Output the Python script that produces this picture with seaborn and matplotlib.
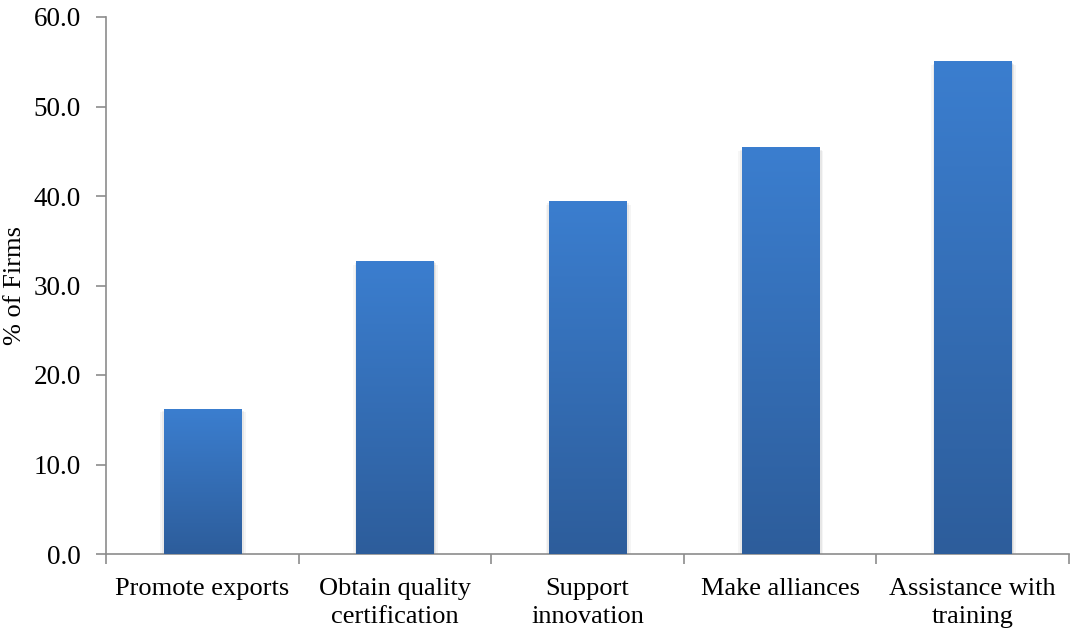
import numpy as np
import pandas as pd
import matplotlib
matplotlib.use("Agg")
import matplotlib.pyplot as plt
import matplotlib.patheffects as pe
from matplotlib.colors import LinearSegmentedColormap
import seaborn as sns

categories = ["Promote exports", "Obtain quality\ncertification", "Support\ninnovation",
              "Make alliances", "Assistance with\ntraining"]
pct_firms = [16.2, 32.7, 39.4, 45.4, 55.0]
y_ticks = [0, 10, 20, 30, 40, 50, 60]

sns.set_theme(style="white")
plt.rcParams["font.family"] = ["Liberation Serif", "DejaVu Serif"]

df = pd.DataFrame({"category": categories, "pct": pct_firms})

fig = plt.figure(figsize=(10.7, 6.31), dpi=100)
ax = fig.add_axes([106 / 1070, 1 - 554 / 631, (1069 - 106) / 1070, (554 - 17) / 631])

sns.barplot(data=df, x="category", y="pct", width=0.4, color="#3A7DCE", ax=ax)

# vertical gradient fill on each bar, with a soft drop shadow
grad = LinearSegmentedColormap.from_list("bar_grad", ["#2D5D9B", "#3B7ECF"])
shadow = [
    pe.SimplePatchShadow(offset=(3.5, -2.5), shadow_rgbFace="#606060", alpha=0.06),
    pe.SimplePatchShadow(offset=(-2.5, -2.5), shadow_rgbFace="#606060", alpha=0.05),
    pe.SimplePatchShadow(offset=(2.2, -1.5), shadow_rgbFace="#606060", alpha=0.09),
    pe.SimplePatchShadow(offset=(-1.2, -1.5), shadow_rgbFace="#606060", alpha=0.08),
    pe.SimplePatchShadow(offset=(1.0, -0.8), shadow_rgbFace="#606060", alpha=0.12),
]
for patch in ax.patches:
    x0, y0 = patch.get_x(), patch.get_y()
    w, h = patch.get_width(), patch.get_height()
    patch.set_facecolor((1, 1, 1, 0))
    patch.set_edgecolor("none")
    patch.set_path_effects(shadow)
    ax.imshow(np.linspace(0, 1, 256).reshape(-1, 1), cmap=grad, origin="lower",
              extent=[x0, x0 + w, y0, y0 + h], aspect="auto", zorder=3)

ax.set_xlim(-0.5, len(categories) - 0.5)
ax.set_ylim(0, 60)
ax.set_yticks(y_ticks)
ax.set_yticklabels([f"{v:.1f}" for v in y_ticks])

# category separators as major ticks, labels on minor ticks
ax.set_xticks(np.arange(-0.5, len(categories), 1.0))
ax.set_xticklabels([])
ax.set_xticks(np.arange(len(categories)), minor=True)
ax.set_xticklabels(categories, minor=True, linespacing=1.4)

axis_gray = "#8C8C8C"
for side in ["top", "right"]:
    ax.spines[side].set_visible(False)
for side in ["left", "bottom"]:
    ax.spines[side].set_color(axis_gray)
    ax.spines[side].set_linewidth(1.2)

ax.tick_params(axis="x", which="major", direction="out", length=7, width=1.2, color=axis_gray, bottom=True)
ax.tick_params(axis="x", which="minor", length=0, pad=17, labelsize=19, colors="black")
ax.tick_params(axis="y", direction="out", length=7, width=1.2, color=axis_gray, left=True,
               labelsize=19.5, labelcolor="black", pad=11)

ax.set_xlabel("")
ax.set_ylabel("% of Firms", fontsize=19, color="black")
ax.yaxis.label.set_verticalalignment("center")
ax.yaxis.set_label_coords(-0.0945, 0.5)

fig.savefig("out.png", dpi=100)
